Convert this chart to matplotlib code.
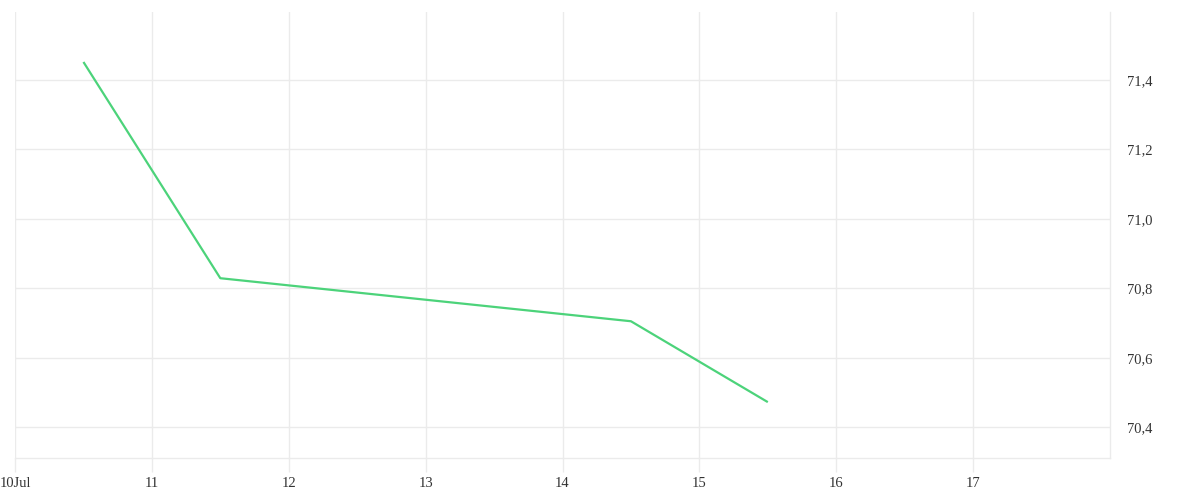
import datetime as dt
import matplotlib
matplotlib.use("Agg")
import matplotlib.pyplot as plt
import matplotlib.dates as mdates
from matplotlib.ticker import FuncFormatter, FixedLocator

# data (noon of each day)
dates = [dt.datetime(2024, 7, 10, 12), dt.datetime(2024, 7, 11, 12),
         dt.datetime(2024, 7, 14, 12), dt.datetime(2024, 7, 15, 12)]
values = [71.452, 70.829, 70.705, 70.472]
x_days = [10, 11, 12, 13, 14, 15, 16, 17]
y_ticks = [70.4, 70.6, 70.8, 71.0, 71.2, 71.4]

plt.rcParams['font.family'] = ['Liberation Serif', 'DejaVu Serif']

fig = plt.figure(figsize=(12, 5), dpi=100)
ax = fig.add_axes([0.0125, 0.084, 0.9125, 0.892])

ax.plot(dates, values, color='#4cd37a', linewidth=1.6, solid_capstyle='butt')

ax.set_xlim(dt.datetime(2024, 7, 10), dt.datetime(2024, 7, 18))
ax.set_ylim(70.311, 71.596)

grid_c = '#ebebeb'
ax.xaxis.set_major_locator(FixedLocator(
    [mdates.date2num(dt.datetime(2024, 7, d)) for d in x_days]))


def day_fmt(x, pos):
    d = mdates.num2date(x)
    if d.day == 10:
        return '10Jul'
    return str(d.day)


ax.xaxis.set_major_formatter(FuncFormatter(day_fmt))
ax.yaxis.set_major_locator(FixedLocator(y_ticks))
ax.yaxis.set_major_formatter(FuncFormatter(lambda v, p: f'{v:.1f}'.replace('.', ',')))
ax.yaxis.tick_right()

ax.grid(True, color=grid_c, linewidth=1)
ax.tick_params(axis='x', length=10, color=grid_c, width=1, labelsize=10.5,
               labelcolor='#333333', pad=3.5)
ax.tick_params(axis='y', length=0, labelsize=10.5, labelcolor='#333333', pad=12.5)

for s in ['top', 'left']:
    ax.spines[s].set_visible(False)
for s in ['right', 'bottom']:
    ax.spines[s].set_color(grid_c)
    ax.spines[s].set_linewidth(1)

fig.savefig('out.png', dpi=100, facecolor='white')
